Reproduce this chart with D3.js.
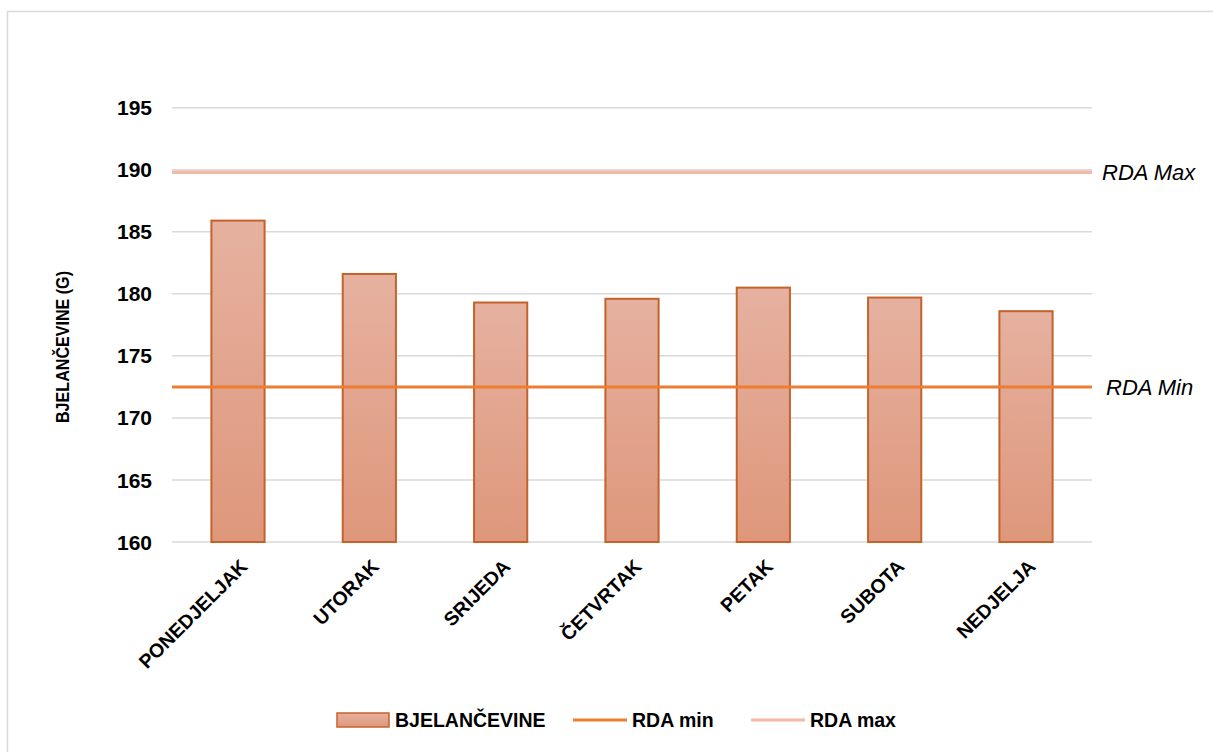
<!DOCTYPE html>
<html><head><meta charset="utf-8">
<script src="https://cdn.jsdelivr.net/npm/d3@7"></script>
<style>body{margin:0;background:#fff}svg{display:block}</style>
</head><body>
<script>
const categories = ["PONEDJELJAK","UTORAK","SRIJEDA","ČETVRTAK","PETAK","SUBOTA","NEDJELJA"];
const values = [185.9, 181.6, 179.3, 179.6, 180.5, 179.7, 178.6];
const rdaMin = 172.5;
const rdaMax = 189.8;
const yTicks = [160,165,170,175,180,185,190,195];
const seriesNames = ["BJELANČEVINE","RDA min","RDA max"];
const yTitle = "BJELANČEVINE (G)";

(function(){
const W=1213,H=752;
const svg=d3.select("body").append("svg").attr("width",W).attr("height",H);
const defs=svg.append("defs");
const grad=defs.append("linearGradient").attr("id","bg").attr("x1",0).attr("y1",0).attr("x2",0).attr("y2",1);
grad.append("stop").attr("offset","0%").attr("stop-color","#e6b1a0");
grad.append("stop").attr("offset","100%").attr("stop-color","#de977b");
const lg=defs.append("linearGradient").attr("id","lgb").attr("x1",0).attr("y1",0).attr("x2",0).attr("y2",1);
lg.append("stop").attr("offset","0%").attr("stop-color","#e6b1a0");
lg.append("stop").attr("offset","100%").attr("stop-color","#de977b");

svg.append("rect").attr("x",7.5).attr("y",11.5).attr("width",1240).attr("height",780)
  .attr("fill","#fff").attr("stroke","#d9d9d9").attr("stroke-width",1.5);

const pl=172,pr=1092,pt=107.7,pb=542;
const x=d3.scaleBand().domain(categories).range([pl,pr]).paddingInner(0.595).paddingOuter(0.3);
const y=d3.scaleLinear().domain([160,195]).range([pb,pt]);

const font="'Liberation Sans', Arial, sans-serif";

svg.append("g").selectAll("line").data(yTicks).join("line")
  .attr("x1",pl).attr("x2",pr).attr("y1",d=>y(d)).attr("y2",d=>y(d))
  .attr("stroke","#d9d9d9").attr("stroke-width",1.5);

svg.append("g").selectAll("text").data(yTicks).join("text")
  .attr("x",152).attr("y",d=>y(d)).attr("dy","0.36em").attr("text-anchor","end")
  .attr("font-family",font).attr("font-weight","bold").attr("font-size",21).attr("fill","#000")
  .text(d=>d);

svg.append("g").selectAll("rect").data(values).join("rect")
  .attr("x",(d,i)=>x(categories[i])).attr("width",x.bandwidth())
  .attr("y",d=>y(d)).attr("height",d=>y(160)-y(d))
  .attr("fill","url(#bg)").attr("stroke","#c5622a").attr("stroke-width",2);

svg.append("line").attr("x1",pl).attr("x2",pr).attr("y1",y(rdaMax)).attr("y2",y(rdaMax))
  .attr("stroke","#f4b9a4").attr("stroke-width",3.5);
svg.append("line").attr("x1",pl).attr("x2",pr).attr("y1",y(rdaMin)).attr("y2",y(rdaMin))
  .attr("stroke","#ed7d31").attr("stroke-width",3);

svg.append("text").attr("x",1102).attr("y",y(rdaMax)).attr("dy","0.35em")
  .attr("font-family",font).attr("font-style","italic").attr("font-size",22).attr("fill","#000").text("RDA Max");
svg.append("text").attr("x",1106).attr("y",y(rdaMin)).attr("dy","0.35em")
  .attr("font-family",font).attr("font-style","italic").attr("font-size",22).attr("fill","#000").text("RDA Min");

svg.append("g").selectAll("text").data(categories).join("text")
  .attr("transform",d=>`translate(${x(d)+x.bandwidth()/2+6},${563}) rotate(-45)`)
  .attr("text-anchor","end").attr("dy","0.35em")
  .attr("font-family",font).attr("font-weight","bold").attr("font-size",19.5).attr("fill","#000")
  .text(d=>d);

svg.append("text").attr("transform",`translate(69,347) rotate(-90)`)
  .attr("text-anchor","middle").attr("font-family",font).attr("font-weight","bold").attr("font-size",19)
  .attr("textLength",152).attr("lengthAdjust","spacingAndGlyphs")
  .attr("fill","#000").text(yTitle);

const ly=720;
const fs=19.5;
const leg=svg.append("g");
leg.append("rect").attr("x",337).attr("y",713).attr("width",52).attr("height",14)
  .attr("fill","url(#lgb)").attr("stroke","#c5622a").attr("stroke-width",1.5);
leg.append("text").attr("x",395).attr("y",ly).attr("dy","0.36em").attr("font-family",font)
  .attr("font-weight","bold").attr("font-size",fs).text(seriesNames[0]);
leg.append("line").attr("x1",573).attr("x2",627).attr("y1",ly).attr("y2",ly).attr("stroke","#ed7d31").attr("stroke-width",3);
leg.append("text").attr("x",632).attr("y",ly).attr("dy","0.36em").attr("font-family",font)
  .attr("font-weight","bold").attr("font-size",fs).text(seriesNames[1]);
leg.append("line").attr("x1",751).attr("x2",805).attr("y1",ly).attr("y2",ly).attr("stroke","#f4b9a4").attr("stroke-width",3);
leg.append("text").attr("x",810).attr("y",ly).attr("dy","0.36em").attr("font-family",font)
  .attr("font-weight","bold").attr("font-size",fs).text(seriesNames[2]);
})();
</script>
</body></html>
